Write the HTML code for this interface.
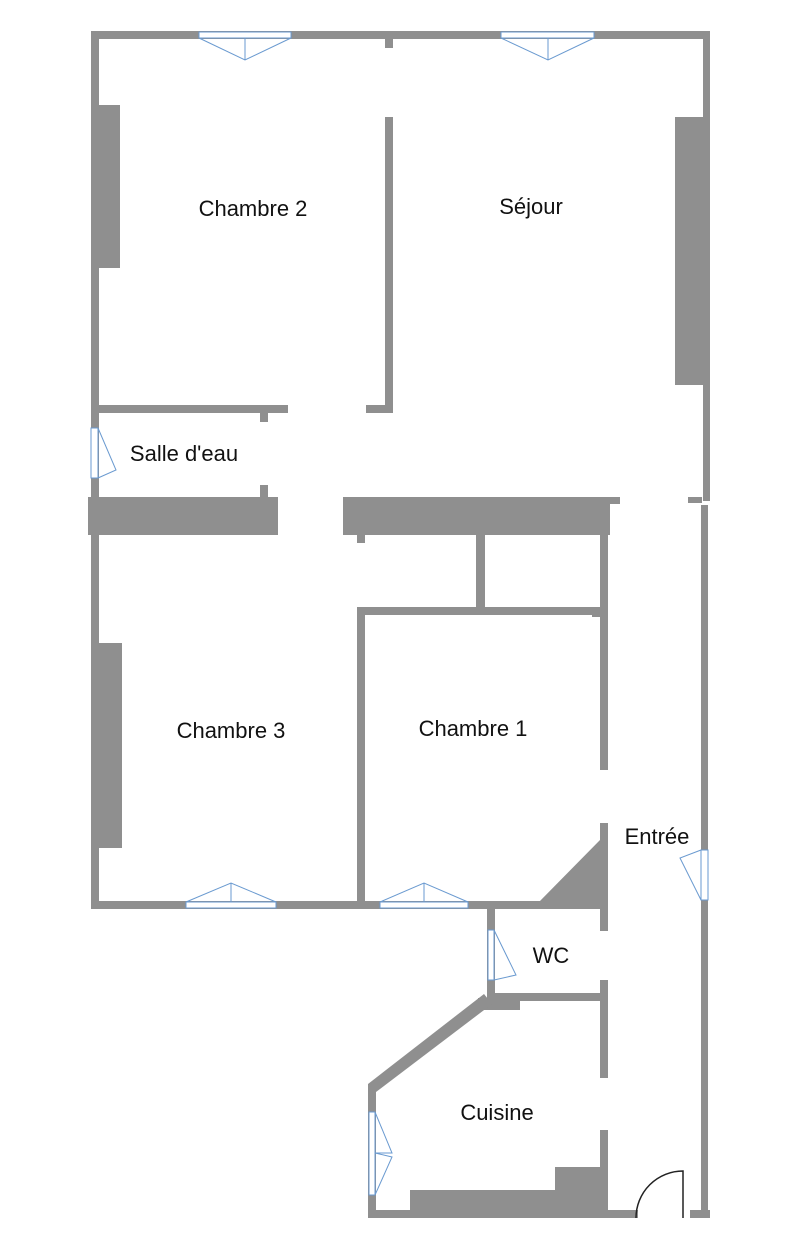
<!DOCTYPE html>
<html><head><meta charset="utf-8"><style>
html,body{margin:0;padding:0;background:#fff;width:806px;height:1252px;overflow:hidden}
svg{display:block}
text{font-family:"Liberation Sans",sans-serif;font-size:22px;fill:#111;text-anchor:middle}
</style></head><body>
<svg width="806" height="1252" viewBox="0 0 806 1252">
<g fill="#8f8f8f">
<rect x="91" y="31" width="619" height="8"/>
<rect x="91" y="31" width="8" height="878"/>
<rect x="703" y="31" width="7" height="470"/>
<rect x="701" y="505" width="7" height="713"/>
<rect x="385" y="38" width="8" height="10"/>
<rect x="91" y="105" width="29" height="163"/>
<rect x="385" y="117" width="8" height="296"/>
<rect x="366" y="405" width="27" height="8"/>
<rect x="675" y="117" width="28" height="268"/>
<rect x="91" y="405" width="197" height="8"/>
<rect x="260" y="413" width="8" height="9"/>
<rect x="260" y="485" width="8" height="12"/>
<rect x="88" y="497" width="190" height="38"/>
<rect x="343" y="497" width="267" height="38"/>
<rect x="600" y="497" width="20" height="7"/>
<rect x="688" y="497" width="14" height="6"/>
<rect x="357" y="535" width="8" height="8"/>
<rect x="476" y="535" width="9" height="75"/>
<rect x="357" y="607" width="243" height="8"/>
<rect x="592" y="607" width="8" height="10"/>
<rect x="600" y="535" width="8" height="235"/>
<rect x="357" y="607" width="8" height="301"/>
<rect x="91" y="643" width="31" height="205"/>
<rect x="91" y="901" width="517" height="8"/>
<rect x="600" y="823" width="8" height="93"/>
<polygon points="538,903 600,840 600,903"/>
<rect x="487" y="909" width="8" height="90"/>
<rect x="600" y="909" width="8" height="22"/>
<rect x="487" y="993" width="121" height="8"/>
<rect x="478" y="998" width="42" height="12"/>
<rect x="600" y="980" width="8" height="98"/>
<polygon points="484,994 492,1004 376,1092 368,1088 368,1084"/>
<rect x="368" y="1086" width="8" height="132"/>
<rect x="368" y="1210" width="270" height="8"/>
<rect x="690" y="1210" width="20" height="8"/>
<rect x="410" y="1190" width="198" height="28"/>
<rect x="555" y="1167" width="53" height="51"/>
<rect x="600" y="1130" width="8" height="88"/>
</g>
<g fill="#fff" stroke="#6a9ad0" stroke-width="1">
<rect x="199" y="32" width="92" height="6"/>
<polygon points="199,38 245,60 291,38" fill="none"/>
<line x1="245" y1="38" x2="245" y2="60"/>
<rect x="501" y="32" width="93" height="6"/>
<polygon points="501,38 548,60 594,38" fill="none"/>
<line x1="548" y1="38" x2="548" y2="60"/>
<rect x="186" y="902" width="90" height="6"/>
<polygon points="186,902 231,883 276,902" fill="none"/>
<line x1="231" y1="883" x2="231" y2="902"/>
<rect x="380" y="902" width="88" height="6"/>
<polygon points="380,902 424,883 468,902" fill="none"/>
<line x1="424" y1="883" x2="424" y2="902"/>
<rect x="91" y="428" width="7" height="50"/>
<polyline points="98,428 116,470 98,478" fill="none"/>
<rect x="701" y="850" width="7" height="50"/>
<polyline points="701,850 680,858 701,900" fill="none"/>
<rect x="488" y="930" width="6" height="50"/>
<polyline points="494,930 516,975 494,980" fill="none"/>
<rect x="369" y="1112" width="6" height="83"/>
<polyline points="375,1112 392,1153 375,1153 392,1157 375,1195" fill="none"/>
</g>
<path d="M636,1218 A47,47 0 0 1 683,1171 L683,1218" fill="none" stroke="#222" stroke-width="1.5"/>
<text x="253" y="216">Chambre 2</text>
<text x="531" y="214">Séjour</text>
<text x="184" y="461">Salle d'eau</text>
<text x="231" y="738">Chambre 3</text>
<text x="473" y="736">Chambre 1</text>
<text x="657" y="844">Entrée</text>
<text x="551" y="963">WC</text>
<text x="497" y="1120">Cuisine</text>
</svg>
</body></html>
